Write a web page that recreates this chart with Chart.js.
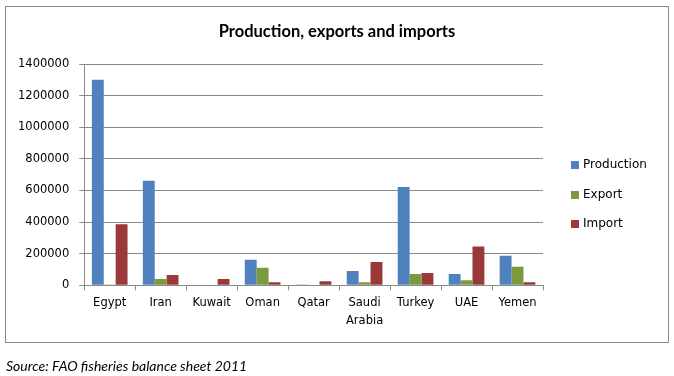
<!DOCTYPE html>
<html>
<head>
<meta charset="utf-8">
<script src="https://cdn.jsdelivr.net/npm/chart.js@4.4.0/dist/chart.umd.min.js"></script>
<style>
  html, body { margin: 0; padding: 0; background: #fff; }
  body { width: 674px; height: 376px; position: relative; overflow: hidden; }
  #frame { position: absolute; left: 5px; top: 6px; width: 662px; height: 335px; border: 1px solid #8a8a8a; }
  #wrap { position: absolute; left: 0; top: 0; width: 674px; height: 376px; }
  #title { position: absolute; left: 0; width: 674px; top: 21px; text-align: center; font-family: Lato, "Open Sans", sans-serif; font-weight: bold; font-size: 16.5px; color: #000; }
  #legend { position: absolute; left: 571px; top: 157px; font-family: "DejaVu Sans", sans-serif; font-size: 12px; color: #000; }
  #legend .item { height: 29.5px; display: flex; align-items: flex-start; }
  #legend .sw { width: 8px; height: 8px; margin-top: 4px; margin-right: 4px; }
  #source { position: absolute; left: 6px; top: 357px; font-family: Lato, "Open Sans", sans-serif; font-style: italic; font-size: 14px; color: #000; }
</style>
</head>
<body>
<div id="frame"></div>
<div id="wrap"><canvas id="c" width="674" height="376"></canvas></div>
<div id="title">Production, exports and imports</div>
<div id="legend"></div>
<div id="source">Source: FAO fisheries balance sheet 2011</div>
<script>
const categories = ['Egypt', 'Iran', 'Kuwait', 'Oman', 'Qatar', ['Saudi', 'Arabia'], 'Turkey', 'UAE', 'Yemen'];
const seriesNames = ['Production', 'Export', 'Import'];
const production = [1300000, 662000, 0, 162000, 5000, 90000, 622000, 72000, 188000];
const exportVals = [5000, 40000, 0, 112000, 0, 20000, 72000, 32000, 118000];
const importVals = [387000, 66000, 40000, 20000, 26000, 148000, 78000, 245000, 20000];
const yTicks = [0, 200000, 400000, 600000, 800000, 1000000, 1200000, 1400000];
const colors = ['#4F81BD', '#7A9A3C', '#9A3A38'];

const values = [production, exportVals, importVals];
const datasets = seriesNames.map((name, i) => ({
  label: name,
  data: values[i],
  backgroundColor: colors[i],
  borderWidth: 0,
  barPercentage: 1.0,
  categoryPercentage: 0.7
}));

const tickFont = { family: '"DejaVu Sans", sans-serif', size: 11.5, lineHeight: 1.55 };

new Chart(document.getElementById('c'), {
  type: 'bar',
  data: { labels: categories, datasets: datasets },
  options: {
    responsive: false,
    animation: false,
    layout: { padding: { left: 8, right: 131, top: 64, bottom: 42 } },
    plugins: {
      legend: { display: false },
      tooltip: { enabled: false },
      title: { display: false }
    },
    scales: {
      x: {
        grid: { drawOnChartArea: false, drawTicks: true, tickLength: 5, color: '#8a8a8a', offset: true },
        border: { color: '#8a8a8a' },
        ticks: { color: '#000', font: tickFont, padding: 4, maxRotation: 0, autoSkip: false }
      },
      y: {
        min: 0,
        max: 1400000,
        afterBuildTicks: (axis) => { axis.ticks = yTicks.map(v => ({ value: v })); },
        grid: { color: '#8a8a8a', tickLength: 5, drawTicks: true },
        border: { color: '#8a8a8a' },
        ticks: { color: '#000', font: tickFont, padding: 10, callback: (v) => String(v) }
      }
    }
  }
});

const legend = document.getElementById('legend');
seriesNames.forEach((name, i) => {
  const item = document.createElement('div');
  item.className = 'item';
  const sw = document.createElement('span');
  sw.className = 'sw';
  sw.style.background = colors[i];
  const t = document.createElement('span');
  t.textContent = name;
  item.appendChild(sw);
  item.appendChild(t);
  legend.appendChild(item);
});
</script>
</body>
</html>
